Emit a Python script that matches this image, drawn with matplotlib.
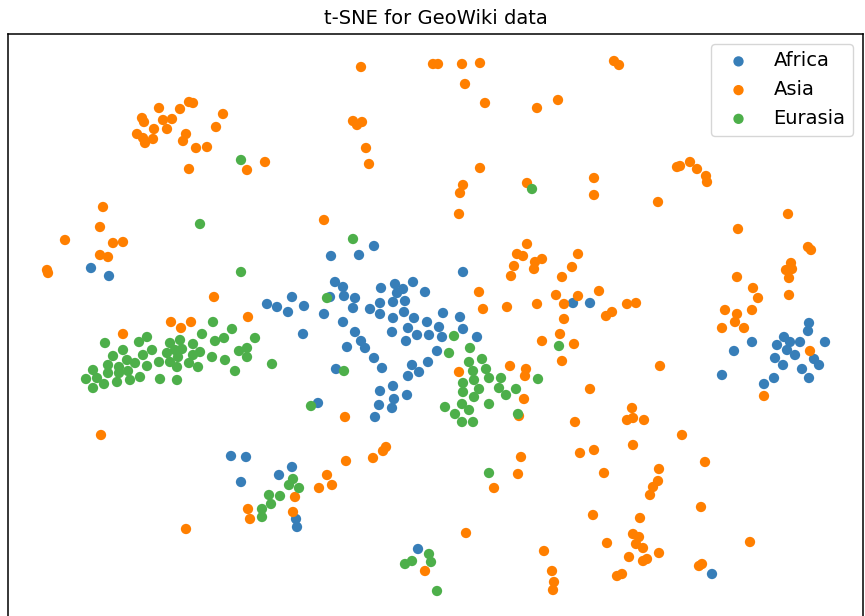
import matplotlib
matplotlib.use("Agg")
import matplotlib.pyplot as plt

# 2-D t-SNE embedding of the GeoWiki samples, grouped by region
africa_x = [91, 109, 374, 331, 359, 335, 343, 381, 395, 403, 413, 397, 425, 292, 267, 277,
            288, 304, 324, 330, 344, 355, 353, 370, 380, 393, 405, 380, 393, 404, 414, 408,
            417, 427, 439, 443, 442, 429, 343, 303, 355, 392, 406, 361, 365, 347, 374, 382,
            437, 428, 412, 419, 408, 336, 393, 380, 394, 407, 379, 392, 375, 318,
            463, 460, 463, 477, 573, 590,
            809, 808, 784, 777, 790, 800, 825, 752, 734, 787, 795, 775, 783, 814, 819, 802,
            809, 774, 764, 722,
            231, 246, 241, 279, 292, 296, 297, 418, 712]
africa_y = [268, 276, 246, 256, 255, 282, 287, 288, 284, 289, 282, 293, 292, 297, 304, 307,
            312, 306, 314, 297, 296, 298, 308, 309, 303, 302, 301, 314, 318, 312, 318, 328,
            335, 322, 327, 313, 337, 335, 322, 334, 332, 332, 341, 341, 348, 347, 358, 368,
            351, 362, 365, 372, 376, 369, 386, 391, 399, 395, 405, 408, 417, 403,
            272, 317, 329, 337, 303, 303,
            323, 331, 337, 345, 342, 342, 342, 342, 351, 350, 355, 358, 365, 359, 365, 369,
            378, 378, 384, 375,
            456, 457, 482, 475, 467, 519, 527, 549, 574]

asia_x = [142, 144, 159, 180, 189, 193, 163, 172, 154, 167, 137, 143, 145, 153, 186, 183,
          196, 207, 216, 223, 189, 103, 100,
          361, 433, 438, 353, 357, 362, 366, 369, 265, 247, 324,
          462, 480, 465, 485, 537, 558, 614, 619, 480, 463, 460, 459, 527, 594, 594, 658,
          677, 680, 690, 697, 706, 707, 788, 738,
          65, 113, 123, 100, 108, 47, 48, 214, 171, 181, 191, 123,
          248, 345,
          527, 517, 523, 514, 511, 535, 542, 534, 578, 572, 562, 479, 483, 507, 537, 556,
          564, 578, 599, 627, 636, 606, 612, 564, 560, 542, 574, 562, 459, 510, 526, 525,
          524, 590, 660, 519, 575, 632, 627, 633, 644,
          808, 811, 791, 786, 792, 789, 789, 737, 753, 758, 752, 725, 737, 735, 722, 744,
          810, 764,
          101, 186,
          346, 373, 383, 386, 327, 332, 319, 295, 293, 248, 250, 425,
          521, 518, 494, 580, 594, 633, 604, 659, 658, 653, 650, 593, 640, 633, 639, 636,
          643, 659, 629, 643, 647, 617, 622, 607, 544, 552, 554, 553, 466,
          682, 705, 701, 750, 699, 702]
asia_y = [118, 122, 108, 109, 102, 103, 120, 119, 129, 129, 134, 138, 143, 139, 134, 141,
          148, 147, 127, 114, 169, 207, 227,
          67, 64, 64, 121, 125, 122, 148, 164, 162, 170, 220,
          64, 63, 84, 103, 108, 100, 61, 65, 168, 185, 193, 214, 183, 178, 195, 202,
          167, 166, 162, 169, 176, 182, 214, 229,
          240, 243, 242, 255, 257, 270, 273, 297, 322, 328, 322, 334,
          317, 417,
          244, 254, 256, 266, 276, 262, 259, 269, 254, 267, 277, 292, 309, 307, 304, 295,
          304, 296, 291, 304, 303, 316, 312, 319, 334, 341, 344, 361, 372, 366, 369, 376,
          399, 389, 366, 416, 422, 408, 420, 418, 420,
          247, 250, 263, 270, 269, 278, 295, 277, 288, 298, 310, 310, 314, 322, 328, 328,
          351, 396,
          435, 529,
          461, 458, 451, 447, 475, 485, 488, 497, 512, 509, 519, 571,
          457, 474, 488, 453, 450, 445, 473, 469, 481, 487, 495, 515, 518, 534, 537, 544,
          548, 553, 557, 561, 559, 576, 574, 543, 551, 571, 582, 590, 533,
          435, 462, 507, 542, 566, 564]

eurasia_x = [200, 241, 532,
             213, 105, 139, 147, 123, 113, 152, 143, 127, 135, 108, 119, 147, 159, 170, 180,
             167, 175, 182, 193, 202, 215, 200, 193, 170, 178, 177, 189, 198, 212, 224, 225,
             93, 86, 97, 93, 104, 108, 117, 130, 128, 140, 119, 160, 177,
             353, 241, 327, 232, 255, 239, 247, 247, 235, 272, 344, 311, 445,
             454, 449, 470, 469, 482, 486, 473, 474, 463, 463, 479, 474, 489, 501, 499, 506,
             516, 538, 489, 462, 469, 455, 462, 473, 518, 559,
             293, 289, 299, 269, 280, 271, 262, 262, 429, 431, 405, 412, 437, 489]
eurasia_y = [224, 160, 189,
             322, 343, 342, 337, 350, 356, 350, 355, 360, 363, 365, 367, 366, 362, 343, 340,
             353, 350, 349, 344, 334, 341, 352, 355, 362, 357, 367, 363, 367, 357, 338, 360,
             370, 379, 378, 388, 384, 373, 382, 380, 371, 377, 373, 379, 380,
             239, 272, 298, 329, 338, 351, 348, 357, 371, 364, 371, 406, 407,
             336, 353, 348, 362, 359, 369, 371, 380, 383, 392, 389, 397, 378, 378, 388, 395,
             389, 379, 404, 404, 410, 414, 422, 422, 414, 346,
             479, 485, 488, 495, 496, 504, 509, 517, 554, 562, 564, 561, 591, 473]

regions = ["Africa", "Asia", "Eurasia"]
xs = [africa_x, asia_x, eurasia_x]
ys = [africa_y, asia_y, eurasia_y]
colors = ["#377eb8", "#ff7f00", "#4daf4a"]

fig = plt.figure(figsize=(8.65, 6.16), dpi=100)
ax = fig.add_axes([8 / 865, 1 - 622 / 616, 855 / 865, (622 - 34) / 616])

for name, x, y, c in zip(regions, xs, ys, colors):
    ax.scatter(x, y, s=55, color=c, edgecolors="none", label=name)

ax.set_xlim(8, 863)
ax.set_ylim(622, 34)
ax.set_xticks([])
ax.set_yticks([])
for sp in ax.spines.values():
    sp.set_linewidth(1.1)

ax.set_title("t-SNE for GeoWiki data", fontsize=14, pad=7)
ax.legend(loc="upper right", fontsize=14)

fig.savefig("out.png", dpi=100)
